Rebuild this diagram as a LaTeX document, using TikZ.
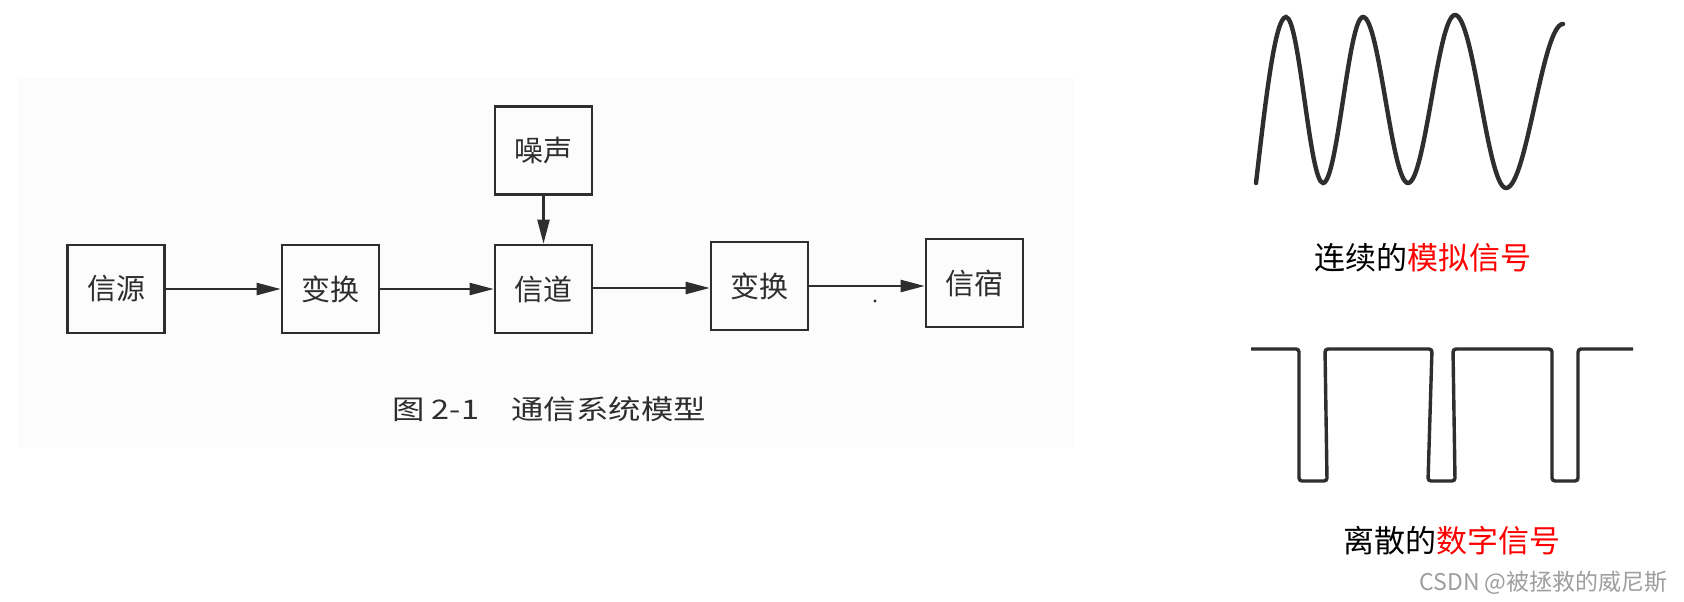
\documentclass[tikz,border=0pt]{standalone}
\usepackage{fontspec}
\usepackage{graphicx}
\usetikzlibrary{arrows.meta}
\newfontfamily\cjk{Noto Sans CJK SC}
\definecolor{inkc}{gray}{0.18}
\definecolor{scanbg}{rgb}{0.988,0.988,0.988}
\definecolor{wmark}{gray}{0.62}
\tikzset{
  blk/.style={draw=inkc, line width=1.3pt, minimum width=48.5pt, minimum height=44pt,
    inner sep=0pt, font=\cjk\fontsize{14.5pt}{14.5pt}\selectfont, text=inkc},
  flow/.style={draw=inkc, line width=1.1pt, -{Triangle[length=12pt,width=6pt]}},
  wave/.style={draw=inkc, line width=2.2pt, line cap=round},
  pulse/.style={draw=inkc, line width=1.7pt, rounded corners=1.5pt},
  lbl/.style={font=\cjk\fontsize{15.5pt}{15.5pt}\selectfont, inner sep=0pt}
}
\begin{document}
\begin{tikzpicture}[x=0.5pt,y=-0.5pt]
\useasboundingbox (0,0) rectangle (1684,601);
\fill[white] (0,0) rectangle (1684,601);
% scanned figure background
\fill[scanbg] (17,78) rectangle (1075,448);

% blocks
\node[blk] (src)   at (116,289)   {信源};
\node[blk] (t1)    at (330.5,289) {变换};
\node[blk] (ch)    at (543.5,289) {信道};
\node[blk] (t2)    at (759.5,286) {变换};
\node[blk] (sink)  at (974.5,283) {信宿};
\node[blk] (noise) at (543.5,150.5) {噪声};

% connectors
\draw[flow] (src.east) -- (src.east -| t1.west);
\draw[flow] (t1.east) -- (t1.east -| ch.west);
\draw[flow] ([yshift=0.5pt]ch.east) -- ([yshift=0.5pt]ch.east -| t2.west);
\draw[flow] (t2.east) -- (t2.east -| sink.west);
\draw[flow] (noise.south) -- (ch.north);
\fill[inkc] (875,301) circle (0.8pt);

% caption
\node[font=\cjk\fontsize{13.5pt}{13.5pt}\selectfont, text=inkc, inner sep=0pt] (cap) at (549,409)
  {\scalebox{1.2}[1]{图 2-1\quad 通信系统模型}};

% analog signal
\draw[wave] (1256,183) sin (1286,17) cos (1304.5,100) sin (1323,183)
  cos (1343,100) sin (1363,17) cos (1385.5,100) sin (1408,183)
  cos (1431.5,99) sin (1455,15) cos (1480.5,101) sin (1506,188)
  cos (1534.5,106) sin (1563,24);
\node[lbl] (alab) at (1423,258) {连续的\textcolor{red}{模拟信号}};

% digital signal
\draw[pulse] (1251,349) -- (1299,349) -- (1299,481) -- (1327,481) -- (1325,349)
  -- (1432,349) -- (1428,481) -- (1455,481) -- (1453,349)
  -- (1552,349) -- (1552,481) -- (1578,481) -- (1578,349) -- (1633,349);
\node[lbl] (dlab) at (1452,541) {离散的\textcolor{red}{数字信号}};

% watermark
\node[font=\cjk\fontsize{11.5pt}{11.5pt}\selectfont, text=wmark, anchor=east, inner sep=0pt] (wm)
  at (1668,583) {CSDN @被拯救的威尼斯};
\end{tikzpicture}
\end{document}
